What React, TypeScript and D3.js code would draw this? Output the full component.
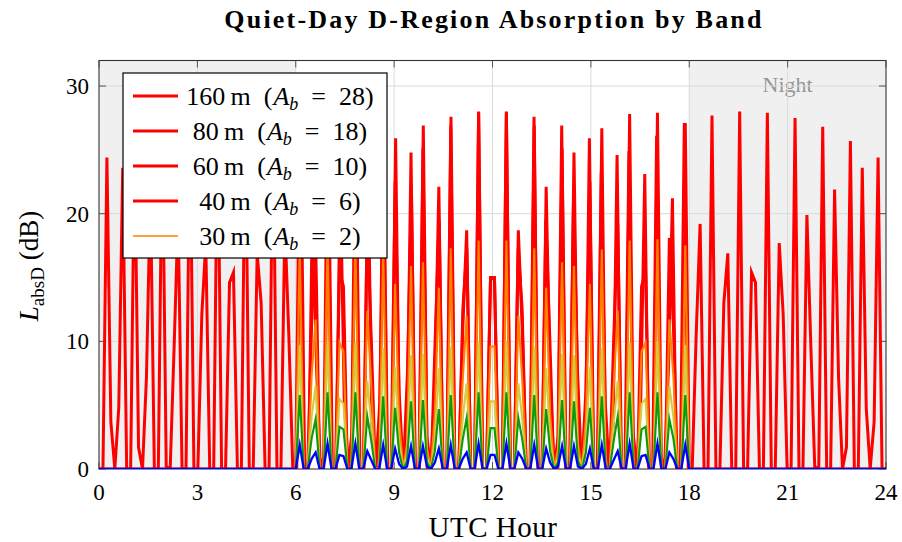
import React from 'react';
import * as d3 from 'd3';

// sampling grids: full day for the 160 m trace, day window for the band set
const hoursAll = d3.range(200).map(i => (24 * i) / 199);
const hoursDay = d3.range(100).map(j => 6 + (12 * j) / 99);

// 160 m over the full day (dB)
const loss160All = [
  0, 0, 24.4, 3.7, 0, 4.8, 23.6, 0, 0, 25.7, 1.7, 0, 7.2, 21.9, 0, 0, 26.8, 0.2, 0, 9.6,
  19.9, 0, 0, 27.5, 0, 0, 12.1, 17.7, 0, 0, 27.9, 0, 0, 14.6, 15.4, 0, 0, 28.0, 0, 0,
  16.9, 13.0, 0, 0, 27.7, 0, 0, 19.2, 10.5, 0, 0, 27.1, 0, 0, 21.2, 8.0, 0, 1.1, 26.1, 0,
  0, 23.1, 5.6, 0, 3.0, 24.9, 0, 0, 24.6, 3.4, 0, 5.2, 23.3, 0, 0, 25.9, 1.4, 0, 7.6, 21.5,
  0, 0, 26.9, 0, 0, 10.1, 19.5, 0, 0, 27.6, 0, 0, 12.5, 17.3, 0, 0, 28.0, 0, 0, 15.0,
  15.0, 0, 0, 28.0, 0, 0, 17.3, 12.5, 0, 0, 27.6, 0, 0, 19.5, 10.1, 0, 0, 26.9, 0, 0,
  21.5, 7.6, 0, 1.4, 25.9, 0, 0, 23.3, 5.2, 0, 3.4, 24.6, 0, 0, 24.9, 3.0, 0, 5.6, 23.1, 0,
  0, 26.1, 1.1, 0, 8.0, 21.2, 0, 0, 27.1, 0, 0, 10.5, 19.2, 0, 0, 27.7, 0, 0, 13.0, 16.9,
  0, 0, 28.0, 0, 0, 15.4, 14.6, 0, 0, 27.9, 0, 0, 17.7, 12.1, 0, 0, 27.5, 0, 0, 19.9,
  9.6, 0, 0.2, 26.8, 0, 0, 21.9, 7.2, 0, 1.7, 25.7, 0, 0, 23.6, 4.8, 0, 3.7, 24.4, 0, 0,
];

// daytime values per band (dB), 06-18 UTC
const loss160Day = [
  0, 27.1, 0, 0, 11.4, 18.1, 0, 0, 27.9, 0, 0, 15.5, 14.3, 0, 0, 27.8, 0, 0, 19.2, 10.2,
  0, 0.2, 26.7, 0, 0, 22.5, 6.1, 0, 3.0, 24.8, 0, 0, 25.1, 2.5, 0, 6.7, 22.1, 0, 0, 26.9,
  0, 0, 10.8, 18.7, 0, 0, 27.9, 0, 0, 14.9, 14.9, 0, 0, 27.9, 0, 0, 18.7, 10.8, 0, 0,
  26.9, 0, 0, 22.1, 6.7, 0, 2.5, 25.1, 0, 0, 24.8, 3.0, 0, 6.1, 22.5, 0, 0, 26.7, 0.2, 0,
  10.2, 19.2, 0, 0, 27.8, 0, 0, 14.3, 15.5, 0, 0, 27.9, 0, 0, 18.1, 11.4, 0, 0, 27.1, 0,
];
const loss80Day = [
  0, 17.5, 0, 0, 7.3, 11.7, 0, 0, 18.0, 0, 0, 9.9, 9.2, 0, 0, 17.9, 0, 0, 12.4, 6.5,
  0, 0.1, 17.2, 0, 0, 14.5, 3.9, 0, 1.9, 15.9, 0, 0, 16.2, 1.6, 0, 4.3, 14.2, 0, 0, 17.3,
  0, 0, 6.9, 12.0, 0, 0, 17.9, 0, 0, 9.6, 9.6, 0, 0, 17.9, 0, 0, 12.0, 6.9, 0, 0,
  17.3, 0, 0, 14.2, 4.3, 0, 1.6, 16.2, 0, 0, 15.9, 1.9, 0, 3.9, 14.5, 0, 0, 17.2, 0.1, 0,
  6.5, 12.4, 0, 0, 17.9, 0, 0, 9.2, 9.9, 0, 0, 18.0, 0, 0, 11.7, 7.3, 0, 0, 17.5, 0,
];
const loss60Day = [
  0, 9.7, 0, 0, 4.1, 6.5, 0, 0, 10.0, 0, 0, 5.5, 5.1, 0, 0, 9.9, 0, 0, 6.9, 3.6,
  0, 0.1, 9.5, 0, 0, 8.0, 2.2, 0, 1.1, 8.9, 0, 0, 9.0, 0.9, 0, 2.4, 7.9, 0, 0, 9.6,
  0, 0, 3.9, 6.7, 0, 0, 10.0, 0, 0, 5.3, 5.3, 0, 0, 10.0, 0, 0, 6.7, 3.9, 0, 0,
  9.6, 0, 0, 7.9, 2.4, 0, 0.9, 9.0, 0, 0, 8.9, 1.1, 0, 2.2, 8.0, 0, 0, 9.5, 0.1, 0,
  3.6, 6.9, 0, 0, 9.9, 0, 0, 5.1, 5.5, 0, 0, 10.0, 0, 0, 6.5, 4.1, 0, 0, 9.7, 0,
];
const loss40Day = [
  0, 5.8, 0, 0, 2.4, 3.9, 0, 0, 6.0, 0, 0, 3.3, 3.1, 0, 0, 6.0, 0, 0, 4.1, 2.2,
  0, 0, 5.7, 0, 0, 4.8, 1.3, 0, 0.6, 5.3, 0, 0, 5.4, 0.5, 0, 1.4, 4.7, 0, 0, 5.8,
  0, 0, 2.3, 4.0, 0, 0, 6.0, 0, 0, 3.2, 3.2, 0, 0, 6.0, 0, 0, 4.0, 2.3, 0, 0,
  5.8, 0, 0, 4.7, 1.4, 0, 0.5, 5.4, 0, 0, 5.3, 0.6, 0, 1.3, 4.8, 0, 0, 5.7, 0, 0,
  2.2, 4.1, 0, 0, 6.0, 0, 0, 3.1, 3.3, 0, 0, 6.0, 0, 0, 3.9, 2.4, 0, 0, 5.8, 0,
];
const loss30Day = [
  0, 1.9, 0, 0, 0.8, 1.3, 0, 0, 2.0, 0, 0, 1.1, 1.0, 0, 0, 2.0, 0, 0, 1.4, 0.7,
  0, 0, 1.9, 0, 0, 1.6, 0.4, 0, 0.2, 1.8, 0, 0, 1.8, 0.2, 0, 0.5, 1.6, 0, 0, 1.9,
  0, 0, 0.8, 1.3, 0, 0, 2.0, 0, 0, 1.1, 1.1, 0, 0, 2.0, 0, 0, 1.3, 0.8, 0, 0,
  1.9, 0, 0, 1.6, 0.5, 0, 0.2, 1.8, 0, 0, 1.8, 0.2, 0, 0.4, 1.6, 0, 0, 1.9, 0, 0,
  0.7, 1.4, 0, 0, 2.0, 0, 0, 1.0, 1.1, 0, 0, 2.0, 0, 0, 1.3, 0.8, 0, 0, 1.9, 0,
];

const nightSpans = [[0, 6], [18, 24]];
const xTicks = [0, 3, 6, 9, 12, 15, 18, 21, 24];
const yTicks = [0, 10, 20, 30];
const legendBands = ['160', '80', '60', '40', '30'];
const legendAb = [28, 18, 10, 6, 2];
const legendColors = ['#ff0000', '#ff0000', '#ff0000', '#ff0000', '#ff8000'];
const legendWidths = [3.2, 3.2, 3.2, 3.2, 1.5];

const FONT = '"Liberation Serif", "Times New Roman", serif';

export default function App() {
  const left = 99, right = 886, top = 60.5, bottom = 469;
  const x = d3.scaleLinear().domain([0, 24]).range([left, right]);
  const y = d3.scaleLinear().domain([0, 32]).range([bottom, top]);
  const line = d3.line<[number, number]>().x(d => x(d[0])).y(d => y(d[1]));

  const fullPts: [number, number][] = hoursAll.map((h, i) => [h, loss160All[i]]);
  const dayLines = [
    { vals: loss160Day, color: '#ff0000', width: 3.0 },
    { vals: loss80Day, color: '#ff8000', width: 2.1 },
    { vals: loss60Day, color: '#d8c840', width: 2.1 },
    { vals: loss40Day, color: '#0e9a0e', width: 2.1 },
    { vals: loss30Day, color: '#0000ff', width: 2.3 },
  ].map(s => ({
    ...s,
    pts: [[nightSpans[0][0], 0] as [number, number]]
      .concat(hoursDay.map((h, j) => [h, s.vals[j]] as [number, number]))
      .concat([[nightSpans[1][1], 0]]),
  }));

  const legX = 123, legY = 73, legW = 264, legH = 185, rowGap = 35;
  const lateNight = nightSpans[1];

  return (
    <svg width={902} height={542} style={{ position: 'absolute', left: 0, top: 0, background: '#fff' }} fontFamily={FONT}>
      <defs>
        <clipPath id="plotClip">
          <rect x={left} y={top} width={right - left} height={bottom - top} />
        </clipPath>
      </defs>

      <text x={494} y={28} textAnchor="middle" fontSize={26} fontWeight="bold" letterSpacing={2.2}>
        Quiet-Day D-Region Absorption by Band
      </text>

      {nightSpans.map((s, i) => (
        <rect key={i} x={x(s[0])} y={top} width={x(s[1]) - x(s[0])} height={bottom - top} fill="#f0f0f0" />
      ))}
      <text x={(x(lateNight[0]) + x(lateNight[1])) / 2} y={92} textAnchor="middle" fontSize={22} fill="#959595">Night</text>

      {xTicks.slice(1, -1).map(t => (
        <line key={t} x1={x(t)} x2={x(t)} y1={top} y2={bottom} stroke="#dadada" strokeWidth={1} />
      ))}
      {yTicks.slice(1).map(t => (
        <line key={t} x1={left} x2={right} y1={y(t)} y2={y(t)} stroke="#dadada" strokeWidth={1} />
      ))}

      <rect x={left} y={top} width={right - left} height={bottom - top} fill="none" stroke="#333" strokeWidth={1.1} />
      {xTicks.map(t => (
        <g key={t} stroke="#444" strokeWidth={0.9}>
          <line x1={x(t)} x2={x(t)} y1={bottom} y2={bottom - 7} />
          <line x1={x(t)} x2={x(t)} y1={top} y2={top + 7} />
        </g>
      ))}
      {yTicks.map(t => (
        <g key={t} stroke="#444" strokeWidth={0.9}>
          <line x1={left} x2={left + 7} y1={y(t)} y2={y(t)} />
          <line x1={right} x2={right - 7} y1={y(t)} y2={y(t)} />
        </g>
      ))}

      <g clipPath="url(#plotClip)" fill="none" strokeLinejoin="miter" strokeMiterlimit={10}>
        <path d={line(fullPts) || ''} stroke="#ff0000" strokeWidth={3.0} />
        {dayLines.map((s, i) => (
          <path key={i} d={line(s.pts) || ''} stroke={s.color} strokeWidth={s.width} />
        ))}
      </g>

      {xTicks.map(t => (
        <text key={t} x={x(t)} y={500} textAnchor="middle" fontSize={23}>{t}</text>
      ))}
      {yTicks.map(t => (
        <text key={t} x={89} y={y(t) + 8} textAnchor="end" fontSize={23}>{t}</text>
      ))}

      <text x={493} y={537} textAnchor="middle" fontSize={29} letterSpacing={0.5}>UTC Hour</text>
      <text transform="translate(38,266) rotate(-90)" textAnchor="middle" fontSize={27}>
        <tspan fontStyle="italic">L</tspan>
        <tspan fontSize={19} dy={6}>absD</tspan>
        <tspan dy={-6}> (dB)</tspan>
      </text>

      <rect x={legX} y={legY} width={legW} height={legH} fill="#fff" stroke="#000" strokeWidth={1.2} />
      {legendBands.map((b, i) => {
        const cy = legY + 23 + i * rowGap;
        return (
          <g key={b}>
            <line x1={133} x2={178} y1={cy} y2={cy} stroke={legendColors[i]} strokeWidth={legendWidths[i]} />
            <text x={280} y={cy + 9} textAnchor="middle" fontSize={26}>
              <tspan>{b}{'\u2009'}m{'\u2002'}(</tspan>
              <tspan fontStyle="italic" dx={1}>A</tspan>
              <tspan fontStyle="italic" fontSize={18} dy={5}>b</tspan>
              <tspan dy={-5}>{'\u2002'}={'\u2002'}{legendAb[i]})</tspan>
            </text>
          </g>
        );
      })}
    </svg>
  );
}
